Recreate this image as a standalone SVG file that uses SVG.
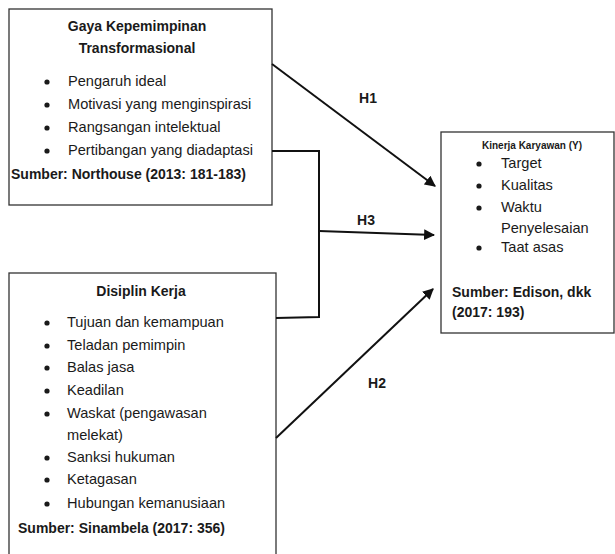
<svg xmlns="http://www.w3.org/2000/svg" width="615" height="554" viewBox="0 0 615 554">
  <style>
    .box { fill: #ffffff; stroke: #333333; stroke-width: 1.3; }
    .t { font-family: "Liberation Sans", Arial, sans-serif; font-size: 14.6px; fill: #1a1a1a; }
    .b { font-weight: bold; font-size: 14px; }
    .ttl { text-anchor: middle; }
    .dot { fill: #1a1a1a; }
    .con { fill: none; stroke: #111111; stroke-width: 2; }
    .lbl { font-family: "Liberation Sans", Arial, sans-serif; font-size: 14px; font-weight: bold; fill: #1a1a1a; text-anchor: middle; }
  </style>
  <defs>
    <marker id="arrow" viewBox="0 0 10 10" refX="9" refY="5" markerWidth="5.5" markerHeight="5.5" orient="auto" markerUnits="strokeWidth">
      <path d="M0,0 L10,5 L0,10 z" fill="#111111"/>
    </marker>
  </defs>
  <rect width="615" height="554" fill="#ffffff"/>

  <!-- Independent variable: transformational leadership -->
  <g id="node-gaya">
    <rect class="box" x="9" y="9" width="263" height="196"/>
    <text class="t b ttl" x="137" y="31">Gaya Kepemimpinan</text>
    <text class="t b ttl" x="137" y="53">Transformasional</text>
    <circle class="dot" cx="47" cy="82" r="2.6"/>
    <text class="t" x="68" y="86">Pengaruh ideal</text>
    <circle class="dot" cx="47" cy="105" r="2.6"/>
    <text class="t" x="68" y="109">Motivasi yang menginspirasi</text>
    <circle class="dot" cx="47" cy="128" r="2.6"/>
    <text class="t" x="68" y="132">Rangsangan intelektual</text>
    <circle class="dot" cx="47" cy="151" r="2.6"/>
    <text class="t" x="68" y="155">Pertibangan yang diadaptasi</text>
    <text class="t b" x="11" y="179">Sumber: Northouse (2013: 181-183)</text>
  </g>

  <!-- Independent variable: work discipline -->
  <g id="node-disiplin">
    <rect class="box" x="9" y="273" width="267" height="300"/>
    <text class="t b ttl" x="141" y="296">Disiplin Kerja</text>
    <circle class="dot" cx="47" cy="323" r="2.6"/>
    <text class="t" x="67" y="327">Tujuan dan kemampuan</text>
    <circle class="dot" cx="47" cy="346" r="2.6"/>
    <text class="t" x="67" y="350">Teladan pemimpin</text>
    <circle class="dot" cx="47" cy="368" r="2.6"/>
    <text class="t" x="67" y="372">Balas jasa</text>
    <circle class="dot" cx="47" cy="391" r="2.6"/>
    <text class="t" x="67" y="395">Keadilan</text>
    <circle class="dot" cx="47" cy="414" r="2.6"/>
    <text class="t" x="67" y="418">Waskat (pengawasan</text>
    <text class="t" x="67" y="440">melekat)</text>
    <circle class="dot" cx="47" cy="458" r="2.6"/>
    <text class="t" x="67" y="462">Sanksi hukuman</text>
    <circle class="dot" cx="47" cy="480" r="2.6"/>
    <text class="t" x="67" y="484">Ketagasan</text>
    <circle class="dot" cx="47" cy="504" r="2.6"/>
    <text class="t" x="67" y="508">Hubungan kemanusiaan</text>
    <text class="t b" x="18" y="533">Sumber: Sinambela (2017: 356)</text>
  </g>

  <!-- Dependent variable: employee performance -->
  <g id="node-kinerja">
    <rect class="box" x="441" y="132" width="173" height="201"/>
    <text class="t b ttl" x="532" y="149" style="font-size:10px">Kinerja Karyawan (Y)</text>
    <circle class="dot" cx="479" cy="164" r="2.6"/>
    <text class="t" x="501" y="168">Target</text>
    <circle class="dot" cx="479" cy="186" r="2.6"/>
    <text class="t" x="501" y="190">Kualitas</text>
    <circle class="dot" cx="479" cy="208" r="2.6"/>
    <text class="t" x="501" y="212">Waktu</text>
    <text class="t" x="501" y="233">Penyelesaian</text>
    <circle class="dot" cx="479" cy="248" r="2.6"/>
    <text class="t" x="501" y="252">Taat asas</text>
    <text class="t b" x="452" y="297">Sumber: Edison, dkk</text>
    <text class="t b" x="452" y="317">(2017: 193)</text>
  </g>

  <!-- Hypothesis connectors -->
  <g id="connectors">
    <line class="con" x1="272" y1="64" x2="435" y2="186" marker-end="url(#arrow)"/>
    <polyline class="con" points="272,151 319,151 319,317 276,318"/>
    <line class="con" x1="319" y1="231" x2="434" y2="235" marker-end="url(#arrow)"/>
    <line class="con" x1="276" y1="438" x2="433" y2="289" marker-end="url(#arrow)"/>
    <text class="lbl" x="368" y="103">H1</text>
    <text class="lbl" x="366" y="225">H3</text>
    <text class="lbl" x="377" y="388">H2</text>
  </g>
</svg>
